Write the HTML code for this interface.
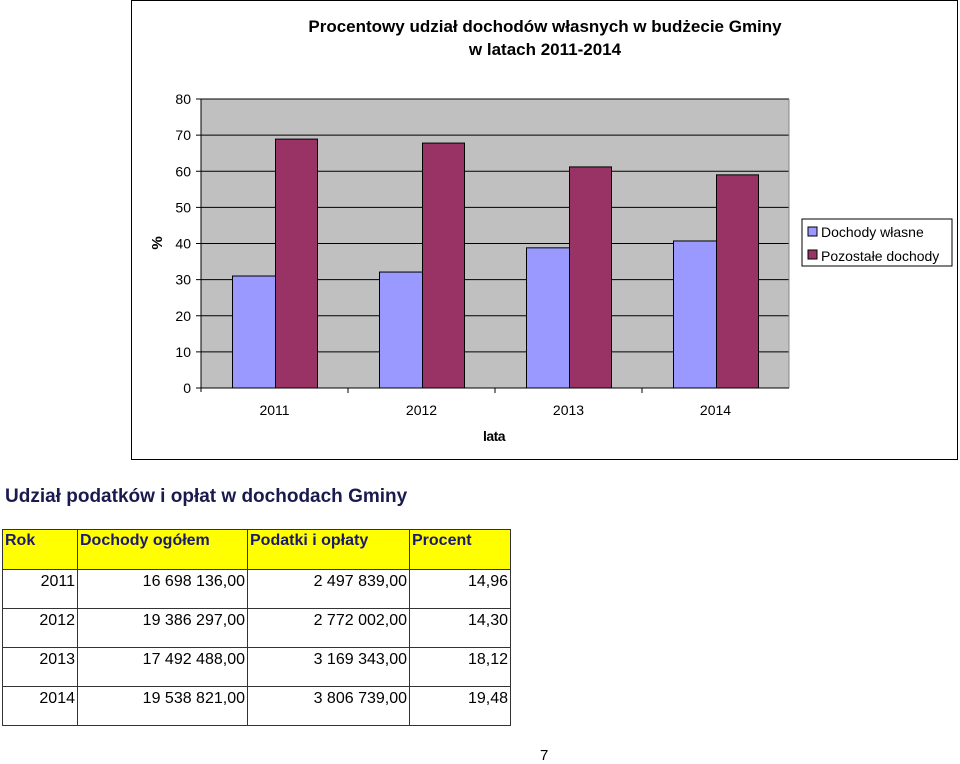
<!DOCTYPE html>
<html><head><meta charset="utf-8"><style>
body{margin:0;width:960px;height:764px;background:#fff;font-family:"Liberation Sans",sans-serif;position:relative;overflow:hidden}
.abs{position:absolute}
table{border-collapse:collapse;position:absolute;left:2px;top:529px;font-size:16px;table-layout:fixed;width:508px}
td{border:1px solid #333;padding:0 2px;vertical-align:top;height:39px;box-sizing:border-box;text-align:right;line-height:1;overflow:hidden}
tr.h td{background:#ffff00;text-align:left;font-weight:bold;color:#1a1a6e;height:40px;padding-top:3px}
tr.r td{padding-top:4px}
</style></head><body>
<div class="abs" style="left:131px;top:0;width:825px;height:458px;border:1px solid #000"></div>
<svg class="abs" style="left:0;top:0" width="960" height="470">
<text x="545" y="32" text-anchor="middle" font-size="17" font-weight="bold" fill="#000">Procentowy udział dochodów własnych w budżecie Gminy</text>
<text x="545" y="55" text-anchor="middle" font-size="17" font-weight="bold" fill="#000">w latach 2011-2014</text>
<g id="plot"></g>
<text x="162" y="243" transform="rotate(-90 162 243)" text-anchor="middle" font-size="15" font-weight="bold">%</text>
<text x="494" y="441" text-anchor="middle" font-size="14" font-weight="bold" letter-spacing="-0.5">lata</text>
<g>
<rect x="802" y="219" width="150" height="47" fill="#fff" stroke="#000"/>
<rect x="808" y="227" width="9" height="9" fill="#9999ff" stroke="#000"/>
<text x="821" y="237" font-size="14">Dochody własne</text>
<rect x="808" y="250" width="9" height="9" fill="#993366" stroke="#000"/>
<text x="821" y="261" font-size="14">Pozostałe dochody</text>
</g>
</svg>
<script>
const categories=["2011","2012","2013","2014"];
const ownIncome=[31.0,32.1,38.8,40.7];
const otherIncome=[68.9,67.8,61.2,59.0];
const yTicks=[0,10,20,30,40,50,60,70,80];
const L=201,R=789,T=99,B=388,ymax=80;
const y=v=>B-(v/ymax)*(B-T);
const cw=(R-L)/categories.length;
const g=document.getElementById('plot');
const NS='http://www.w3.org/2000/svg';
function mk(t,a){const e=document.createElementNS(NS,t);for(const k in a)e.setAttribute(k,a[k]);g.appendChild(e);return e;}
let bg=mk('rect',{x:L,y:T,width:R-L,height:B-T,fill:'#c0c0c0'});


yTicks.forEach(t=>{
 const ln=mk('line',{x1:L-5,x2:R,y1:y(t),y2:y(t),stroke:'#000','stroke-width':1});
 
 
 const tx=mk('text',{x:L-10,y:y(t)+5,'text-anchor':'end','font-size':14});
 tx.textContent=t;
 
 
});
mk('line',{x1:L,x2:L,y1:T,y2:B+4,stroke:'#000'});
mk('line',{x1:R,x2:R,y1:T,y2:B,stroke:'#888'});
categories.forEach((c,i)=>{
 const cx=L+cw*i+cw/2;
 const b1=mk('rect',{x:cx-42,y:y(ownIncome[i]),width:43,height:B-y(ownIncome[i]),fill:'#9999ff',stroke:'#000'});
 
 
 const b2=mk('rect',{x:cx+1,y:y(otherIncome[i]),width:42,height:B-y(otherIncome[i]),fill:'#993366',stroke:'#000'});
 
 
 const tx=mk('text',{x:cx,y:415,'text-anchor':'middle','font-size':14});
 tx.textContent=c;
 
 
 if(i>0){mk('line',{x1:L+cw*i,x2:L+cw*i,y1:B,y2:B+5,stroke:'#000'});}
});
mk('line',{x1:L,x2:R,y1:B,y2:B,stroke:'#000'});
</script>
<div class="abs" style="left:5px;top:486px;font-size:19px;font-weight:bold;color:#1a1a4e">Udział podatków i opłat w dochodach Gminy</div>
<table>
<colgroup><col style="width:75px"><col style="width:170px"><col style="width:162px"><col style="width:101px"></colgroup>
<tr class="h"><td>Rok</td><td>Dochody ogółem</td><td>Podatki i opłaty</td><td>Procent</td></tr>
<tr class="r"><td>2011</td><td>16 698 136,00</td><td>2 497 839,00</td><td>14,96</td></tr>
<tr class="r"><td>2012</td><td>19 386 297,00</td><td>2 772 002,00</td><td>14,30</td></tr>
<tr class="r"><td>2013</td><td>17 492 488,00</td><td>3 169 343,00</td><td>18,12</td></tr>
<tr class="r"><td>2014</td><td>19 538 821,00</td><td>3 806 739,00</td><td>19,48</td></tr>
</table>
<div class="abs" style="left:540px;top:747px;font-size:15px">7</div>
</body></html>
